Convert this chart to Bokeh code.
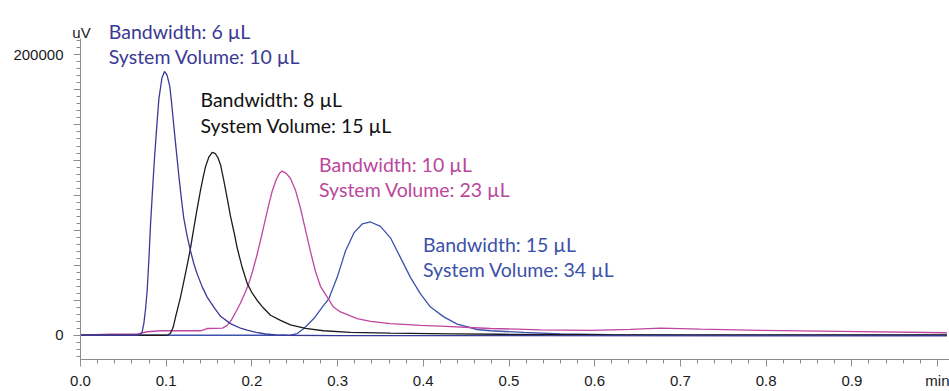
from bokeh.plotting import figure
from bokeh.models import Label, FixedTicker, Range1d
from bokeh.embed import file_html
from bokeh.resources import INLINE

# ---------------- data (time in min, signal in uV) ----------------
t_bw6 = [0.0, 0.065, 0.070, 0.072, 0.0739, 0.0758, 0.0778, 0.0798, 0.0817, 0.0840,
         0.0863, 0.0890, 0.0914, 0.0950, 0.0980, 0.1010, 0.1042, 0.1065, 0.1089, 0.1118,
         0.1147, 0.1176, 0.1205, 0.1245, 0.1284, 0.1323, 0.1362, 0.1420, 0.1478, 0.1556,
         0.1634, 0.1750, 0.1867, 0.1945, 0.2050, 0.2160, 0.2280, 0.2400, 0.3000, 0.5000,
         0.8000, 1.0110]
v_bw6 = [0, 0, 400, 2500, 8300, 18000, 31900, 54000, 78900, 103000,
         125900, 149000, 168200, 183500, 188200, 185500, 177600, 164500, 149400, 131500,
         114100, 98000, 83600, 70500, 60100, 51000, 43600, 34500, 27200, 20000,
         13500, 8300, 5000, 3700, 2000, 900, 200, 0, -200, -300,
         -400, -500]

t_bw8 = [0.0, 0.100, 0.1027, 0.1050, 0.1080, 0.1109, 0.1138, 0.1167, 0.1196, 0.1225,
         0.1255, 0.1284, 0.1313, 0.1342, 0.1371, 0.1400, 0.1430, 0.1459, 0.1499, 0.1537,
         0.1575, 0.1605, 0.1634, 0.1672, 0.1712, 0.1750, 0.1789, 0.1828, 0.1887, 0.1945,
         0.2004, 0.2062, 0.2135, 0.2217, 0.2334, 0.2450, 0.2625, 0.2835, 0.3150, 0.3617,
         0.4317, 0.4901, 0.6068, 0.7235, 1.0110]
v_bw8 = [0, 0, 500, 1400, 5500, 13000, 20000, 27200, 35500, 44100,
         53000, 62400, 73000, 83600, 93500, 103400, 112500, 120300, 127300, 130500,
         129500, 126500, 121700, 110400, 97700, 85000, 74200, 62400, 48300, 37000,
         30000, 24800, 19400, 14300, 10600, 7400, 4900, 3200, 2100, 1550,
         1050, 700, 350, 300, 250]

t_bw10 = [0.0, 0.0175, 0.035, 0.0525, 0.0642, 0.0778, 0.0933, 0.1167, 0.1400, 0.1478,
          0.1575, 0.1657, 0.1712, 0.1762, 0.1820, 0.1867, 0.1914, 0.1964, 0.2007, 0.2054,
          0.2100, 0.2147, 0.2194, 0.2240, 0.2287, 0.2322, 0.2354, 0.2404, 0.2450, 0.2509,
          0.2567, 0.2625, 0.2684, 0.2742, 0.2800, 0.2879, 0.2952, 0.3034, 0.3229, 0.3384,
          0.3617, 0.3967, 0.4201, 0.4784, 0.5368, 0.5951, 0.6418, 0.6768, 0.7235, 0.7935,
          0.8868, 1.0110]
v_bw10 = [0, 500, 700, 850, 700, 2500, 3200, 3200, 3200, 4800,
          4900, 5100, 7000, 11000, 17500, 23000, 29500, 37000, 45500, 56000,
          67500, 80000, 92500, 103500, 111500, 115500, 117100, 115300, 111800, 103400,
          90600, 75100, 59600, 45500, 34900, 27200, 20100, 16600, 11900, 9900,
          8300, 7100, 6500, 4800, 3900, 3500, 4200, 5100, 4400, 3500,
          2800, 1800]

t_bw15 = [0.0, 0.245, 0.2528, 0.2606, 0.2723, 0.2821, 0.2897, 0.2995, 0.3092, 0.3190,
          0.3287, 0.3384, 0.3500, 0.3617, 0.3734, 0.3850, 0.3967, 0.4084, 0.4239, 0.4395,
          0.4629, 0.4784, 0.5175, 0.5600, 0.6200, 0.7000, 1.0110]
v_bw15 = [0, 0, 1200, 4800, 11900, 20100, 26000, 41300, 60100, 73000,
          79400, 80800, 77700, 69500, 55400, 41300, 29500, 20100, 13100, 7900,
          4100, 3200, 2000, 1000, 400, 100, 0]

series_labels = [("Bandwidth: 6 µL", "System Volume: 10 µL"),
                 ("Bandwidth: 8 µL", "System Volume: 15 µL"),
                 ("Bandwidth: 10 µL", "System Volume: 23 µL"),
                 ("Bandwidth: 15 µL", "System Volume: 34 µL")]

x_ticks = [0.0, 0.1, 0.2, 0.3, 0.4, 0.5, 0.6, 0.7, 0.8, 0.9, 1.0]
x_tick_labels = ["0.0", "0.1", "0.2", "0.3", "0.4", "0.5", "0.6", "0.7", "0.8", "0.9", "min"]
x_minor = [round(i * 0.02, 2) for i in range(0, 51)]
y_ticks = [0, 25000, 50000, 75000, 100000, 125000, 150000, 175000, 200000]
y_tick_labels = ["0", "", "", "", "", "", "", "", "200000"]
y_minor = [i * 5000 for i in range(-3, 43)]

# ---------------- styling ----------------
colors = ["#3a3a98", "#1c1c1c", "#c0459f", "#3d52ae"]
text_colors = ["#3a3a94", "#111111", "#bb479d", "#3c51a8"]
axis_gray = "#8c8c8c"

X_LO, X_HI = -80 / 857, 1.014
Y_LO, Y_AXIS_TOP, Y_HI = -17300, 212000, 238800

p = figure(width=949, height=391, output_backend="svg", toolbar_location=None,
           x_range=Range1d(X_LO, X_HI), y_range=Range1d(Y_LO, Y_HI),
           min_border_left=0, min_border_right=0, min_border_top=0, min_border_bottom=0)
p.outline_line_color = None
p.xgrid.visible = False
p.ygrid.visible = False
p.background_fill_color = "white"
p.border_fill_color = "white"

for tx, vy, c in [(t_bw15, v_bw15, colors[3]), (t_bw10, v_bw10, colors[2]),
                  (t_bw8, v_bw8, colors[1]), (t_bw6, v_bw6, colors[0])]:
    p.line(tx, vy, line_color=c, line_width=1.3)

xa = p.xaxis[0]
xa.ticker = FixedTicker(ticks=x_ticks, minor_ticks=x_minor)
xa.major_label_overrides = {t: s for t, s in zip(x_ticks, x_tick_labels)}
xa.bounds = (0, X_HI)
xa.axis_line_color = axis_gray
xa.major_tick_line_color = axis_gray
xa.minor_tick_line_color = axis_gray
xa.major_tick_out = 7
xa.major_tick_in = 0
xa.minor_tick_out = 4
xa.minor_tick_in = 0
xa.major_label_standoff = 5
xa.major_label_text_font = "Liberation Sans"
xa.major_label_text_font_size = "15px"
xa.major_label_text_color = "#1a1a1a"

ya = p.yaxis[0]
ya.ticker = FixedTicker(ticks=y_ticks, minor_ticks=y_minor)
ya.major_label_overrides = {t: s for t, s in zip(y_ticks, y_tick_labels)}
ya.fixed_location = 0
ya.bounds = (Y_LO, Y_AXIS_TOP)
ya.axis_line_color = axis_gray
ya.major_tick_line_color = axis_gray
ya.minor_tick_line_color = axis_gray
ya.major_tick_out = 7
ya.major_tick_in = 0
ya.minor_tick_out = 4
ya.minor_tick_in = 0
ya.major_label_standoff = 10
ya.major_label_text_font = "Liberation Sans"
ya.major_label_text_font_size = "15px"
ya.major_label_text_color = "#1a1a1a"

# unit label
p.add_layout(Label(x=0, y=216300, x_offset=1, text="uV", text_align="center",
                   text_baseline="alphabetic", text_font="Liberation Sans",
                   text_font_size="15px", text_color="#1a1a1a"))

# annotations
label_pos = [(0.033, 216450, 198800), (0.140, 167900, 149900),
             (0.2783, 121700, 103700), (0.3997, 64800, 47100)]
for (l1, l2), (lx, ly1, ly2), c in zip(series_labels, label_pos, text_colors):
    for txt, ly in [(l1, ly1), (l2, ly2)]:
        p.add_layout(Label(x=lx, y=ly, text=txt, text_align="left",
                           text_baseline="alphabetic", text_font="Lato",
                           text_font_size="19.5px", text_color=c))

open("out.html", "w").write(file_html(p, INLINE))
